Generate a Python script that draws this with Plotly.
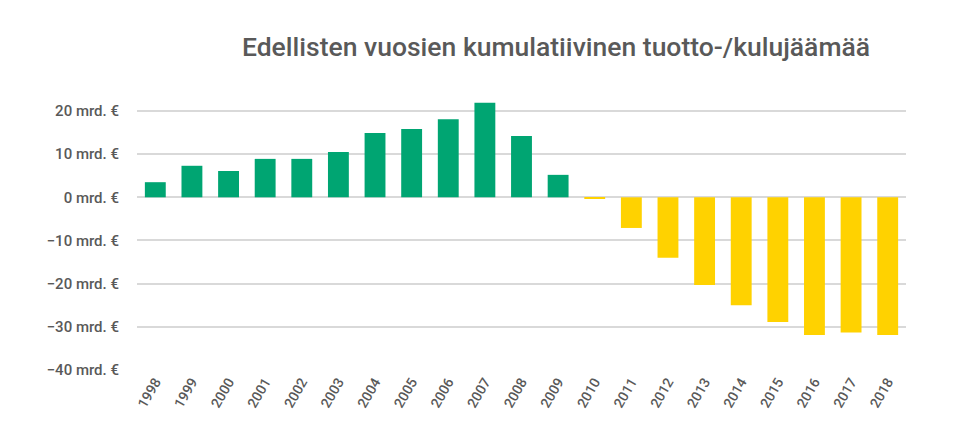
import plotly.graph_objects as go

years = ["1998", "1999", "2000", "2001", "2002", "2003", "2004", "2005", "2006", "2007", "2008",
         "2009", "2010", "2011", "2012", "2013", "2014", "2015", "2016", "2017", "2018"]
values = [3.5, 7.3, 6.1, 8.9, 8.9, 10.5, 14.9, 15.8, 18.1, 21.9, 14.2,
          5.2, -0.4, -7.1, -14.0, -20.3, -25.0, -28.9, -31.9, -31.3, -31.9]
y_ticks = [20, 10, 0, -10, -20, -30, -40]
y_tick_labels = ["20 mrd. €", "10 mrd. €", "0 mrd. €", "−10 mrd. €", "−20 mrd. €",
                 "−30 mrd. €", "−40 mrd. €"]

GREEN = "#00A572"
YELLOW = "#FFD200"
TEXT = "#595959"
GRID = "#D9D9D9"

colors = [GREEN if v >= 0 else YELLOW for v in values]

fig = go.Figure(go.Bar(x=years, y=values, marker=dict(color=colors, line=dict(width=0)),
                       hoverinfo="x+y"))

# the page body adds an 8px offset, so margins are compensated
fig.update_layout(
    width=968, height=443,
    margin=dict(l=129, r=70, t=90, b=81, autoexpand=False),
    paper_bgcolor="white", plot_bgcolor="white",
    bargap=0.43,
    showlegend=False,
    font=dict(family="Roboto", color=TEXT),
    title=dict(text="Edellisten vuosien kumulatiivinen tuotto-/kulujäämää",
               x=548 / 968, xanchor="center", xref="container",
               y=1 - 39 / 443, yanchor="middle", yref="container",
               font=dict(family="Roboto", size=26.5, color=TEXT, weight=500)),
    xaxis=dict(tickangle=-60, tickfont=dict(size=14, color=TEXT, weight=500),
               showgrid=False, showline=False, ticks="", automargin=False),
    yaxis=dict(range=[-40, 23], tickvals=y_ticks, ticktext=y_tick_labels,
               tickfont=dict(size=15, color=TEXT, weight=500),
               showgrid=True, gridcolor=GRID, gridwidth=1.5,
               zeroline=True, zerolinecolor=GRID, zerolinewidth=1.5,
               ticks="outside", ticklen=14, tickcolor="rgba(0,0,0,0)", automargin=False),
)

fig.write_html("out.html")
